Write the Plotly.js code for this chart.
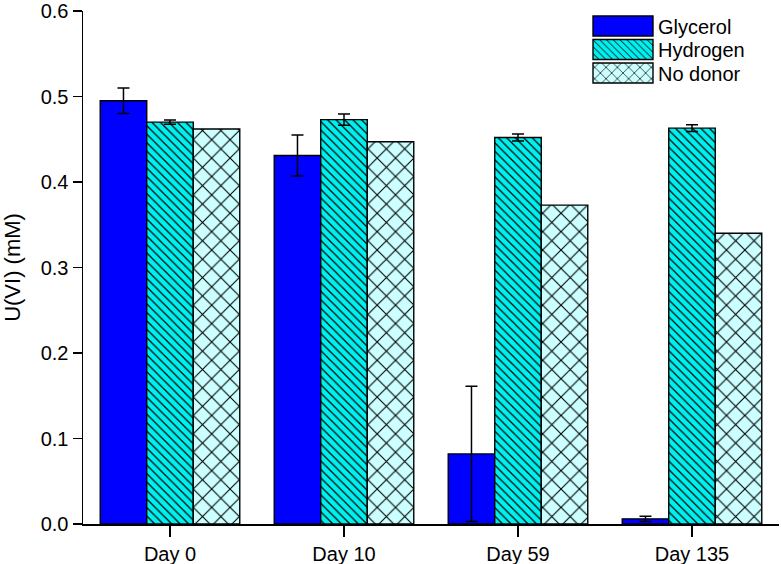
<!DOCTYPE html>
<html>
<head>
<meta charset="utf-8">
<script src="https://cdn.plot.ly/plotly-3.0.1.min.js"></script>
<style>html,body{margin:0;padding:0;background:#fff;}#chart{width:781px;height:564px;}</style>
</head>
<body>
<div id="chart"></div>
<script>
var categories = ['Day 0', 'Day 10', 'Day 59', 'Day 135'];
var glycerol = [0.495, 0.431, 0.082, 0.006];
var glycerolErr = [0.015, 0.024, 0.079, 0.003];
var hydrogen = [0.470, 0.473, 0.452, 0.463];
var hydrogenErr = [0.0025, 0.0065, 0.004, 0.004];
var noDonor = [0.462, 0.447, 0.373, 0.340];
var yTickVals = [0, 0.1, 0.2, 0.3, 0.4, 0.5, 0.6];

var font = 'Arial, "Liberation Sans", sans-serif';
var errStyle = {type: 'data', visible: true, color: '#000', thickness: 1.5, width: 6};

var traces = [
  {
    type: 'bar', name: 'Glycerol', x: categories, y: glycerol,
    error_y: Object.assign({array: glycerolErr}, errStyle),
    marker: {color: '#0000FF', line: {color: '#000', width: 1.4}}
  },
  {
    type: 'bar', name: 'Hydrogen', x: categories, y: hydrogen,
    error_y: Object.assign({array: hydrogenErr}, errStyle),
    marker: {color: '#00F0F0', line: {color: '#000', width: 1.4},
      pattern: {shape: '\\', fgcolor: '#000', bgcolor: '#00F0F0', size: 6, solidity: 0.2, fillmode: 'replace'}}
  },
  {
    type: 'bar', name: 'No donor', x: categories, y: noDonor,
    marker: {color: '#CCFFFF', line: {color: '#000', width: 1.4},
      pattern: {shape: 'x', fgcolor: '#000', bgcolor: '#CCFFFF', size: 13, solidity: 0.16, fillmode: 'replace'}}
  }
];

var layout = {
  width: 781, height: 564,
  margin: {l: 83, r: 2, t: 11, b: 40},
  paper_bgcolor: '#fff', plot_bgcolor: '#fff',
  font: {family: font, size: 20, color: '#000'},
  barmode: 'group', bargap: 0.198, bargroupgap: 0,
  showlegend: true,
  legend: {x: 0.725, y: 1.0, xanchor: 'left', yanchor: 'top', bgcolor: 'rgba(0,0,0,0)',
    font: {family: font, size: 20, color: '#000'}, itemwidth: 60, tracegroupgap: 0},
  xaxis: {
    type: 'category', range: [-0.5, 3.5],
    showline: true, linecolor: '#000', linewidth: 1.5,
    ticks: 'outside', ticklen: 11, tickwidth: 1.5, tickcolor: '#000',
    showgrid: false, zeroline: false,
    tickfont: {family: font, size: 20, color: '#000'}
  },
  yaxis: {
    range: [0, 0.6], tickvals: yTickVals, tickformat: '.1f',
    showline: true, linecolor: '#000', linewidth: 1.5,
    ticks: 'outside', ticklen: 9, tickwidth: 1.5, tickcolor: '#000',
    showgrid: false, zeroline: false,
    tickfont: {family: font, size: 20, color: '#000'},
    title: {text: 'U(VI) (mM)', font: {family: font, size: 22, color: '#000'}, standoff: 21}
  }
};

function fixLegend(gd) {
  // enlarge legend swatches and tighten row spacing to match the reference legend
  var items = gd.querySelectorAll('g.legend g.traces');
  var rowTop = 26, rowStep = 23.5, boxCenterX = 623;
  for (var i = 0; i < items.length; i++) {
    var item = items[i];
    var p = item.querySelector('g.legendpoints path');
    if (p) {
      p.setAttribute('d', 'M30,10H-30V-10H30Z');
      p.style.strokeWidth = '1.4px';
      p.style.stroke = '#000';
    }
    var tr = item.getAttribute('transform') || '';
    var m = /translate\(\s*([-\d.e]+)(?:[ ,]+([-\d.e]+))?\s*\)/.exec(tr);
    var tx = m ? parseFloat(m[1]) : 0, ty = (m && m[2]) ? parseFloat(m[2]) : 0;
    if (p) {
      var r = p.getBoundingClientRect();
      var cy = r.top + r.height / 2, cx = r.left + r.width / 2;
      ty += (rowTop + i * rowStep) - cy;
      tx += boxCenterX - cx;
    }
    item.setAttribute('transform', 'translate(' + tx + ',' + ty + ')');
  }
}

var gdEl = document.getElementById('chart');
Plotly.newPlot(gdEl, traces, layout, {displayModeBar: false, staticPlot: true}).then(function () {
  fixLegend(gdEl);
});
</script>
</body>
</html>
